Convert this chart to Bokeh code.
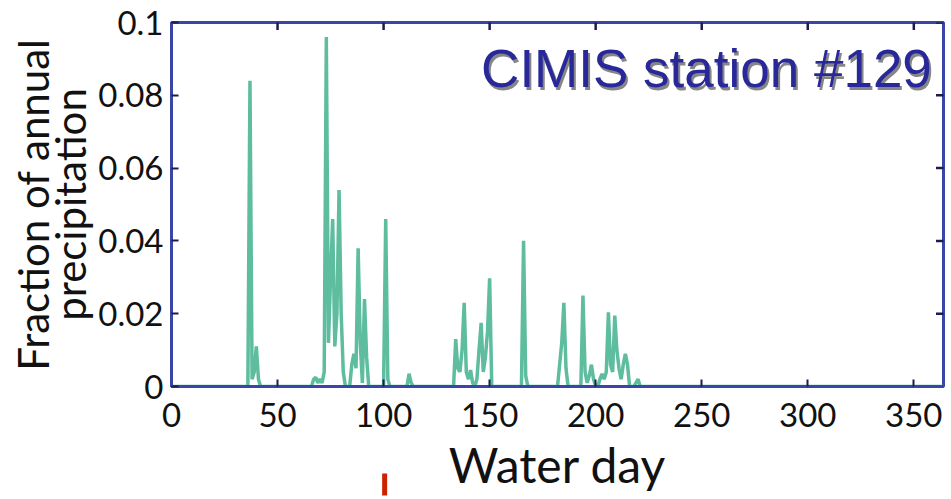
from math import pi

from bokeh.plotting import figure
from bokeh.models import Range1d, FixedTicker, Label, Arrow, NormalHead
from bokeh.embed import file_html
from bokeh.resources import INLINE

# Daily fraction of annual precipitation (water days with rain, zeros on dry days)
days = [0, 35, 36, 37, 38, 39, 40, 41, 42,
        66, 67, 68, 69, 70, 71, 72, 73, 74, 75, 76, 77, 78, 79, 80, 81, 82,
        84, 85, 86, 87, 88, 89, 90, 91, 92, 93,
        100, 101, 102, 103,
        111, 112, 113, 114,
        133, 134, 135, 136, 137, 138, 139, 140, 141, 142, 143, 144, 145, 146, 147, 148, 149, 150, 151,
        165, 166, 167, 168,
        182, 183, 184, 185, 186, 187,
        193, 194, 195, 196, 197, 198, 199, 200,
        201, 202, 203, 204, 205, 206, 207, 208, 209, 210, 211, 212, 213, 214, 215, 216,
        218, 219, 220, 221,
        364]
fraction = [0, 0, 0, 0.084, 0.002, 0.004, 0.011, 0.002, 0,
            0, 0.002, 0.0025, 0.001, 0.002, 0.001, 0.004, 0.096, 0.012, 0.030, 0.046, 0.011, 0.020, 0.054, 0.020, 0.004, 0,
            0, 0.006, 0.009, 0.005, 0.038, 0.012, 0.001, 0.024, 0.008, 0,
            0, 0.046, 0.002, 0,
            0, 0.0035, 0.001, 0,
            0, 0.013, 0.005, 0.004, 0.010, 0.023, 0.004, 0.002, 0.0045, 0.001, 0, 0.002, 0.010, 0.0175, 0.004, 0.008, 0.015, 0.0297, 0,
            0, 0.040, 0.003, 0,
            0, 0.006, 0.012, 0.023, 0.005, 0,
            0, 0.025, 0.004, 0.001, 0.003, 0.006, 0.002, 0,
            0, 0.002, 0.0035, 0.002, 0.004, 0.0204, 0.006, 0.004, 0.0195, 0.010, 0.005, 0.002, 0.006, 0.009, 0.006, 0,
            0, 0.001, 0.002, 0,
            0]

x_ticks = [0, 50, 100, 150, 200, 250, 300, 350]
y_ticks = [0, 0.02, 0.04, 0.06, 0.08, 0.1]
y_tick_labels = ["0", "0.02", "0.04", "0.06", "0.08", "0.1"]

title_text = "CIMIS station #129"
x_title = "Water day"
y_title = "Fraction of annual\nprecipitation"

X_MIN, X_MAX = 0, 364
Y_MIN, Y_MAX = 0, 0.1

BLUE = "#3a45a8"
TEAL = "#5dbd9e"
TICK = "#1c1c50"
INK = "#111111"
RED = "#cc2200"
FONT = "Lato"

p = figure(width=951, height=499,
           x_range=Range1d(X_MIN, X_MAX), y_range=Range1d(Y_MIN, Y_MAX),
           output_backend="svg", toolbar_location=None,
           min_border_left=171, min_border_right=8,
           min_border_top=22, min_border_bottom=113)
p.grid.visible = False
p.background_fill_color = "white"
p.border_fill_color = "white"
p.outline_line_color = BLUE
p.outline_line_width = 3

p.line(days, fraction, line_color=TEAL, line_width=3.5)

# inward tick marks on the top and right frame edges (half of each dash is clipped)
p.scatter(x=x_ticks, y=[Y_MAX] * len(x_ticks), marker="dash", angle=pi / 2,
          size=15, line_color=TICK, line_width=2.5)
p.scatter(x=[X_MAX] * len(y_ticks), y=y_ticks, marker="dash",
          size=15, line_color=TICK, line_width=2.5)

xa = p.xaxis[0]
ya = p.yaxis[0]
xa.ticker = FixedTicker(ticks=x_ticks)
ya.ticker = FixedTicker(ticks=y_ticks)
ya.major_label_overrides = {t: s for t, s in zip(y_ticks, y_tick_labels)}

for ax in (xa, ya):
    ax.axis_line_color = BLUE
    ax.axis_line_width = 3
    ax.major_tick_in = 7
    ax.major_tick_out = 0
    ax.major_tick_line_color = TICK
    ax.major_tick_line_width = 2
    ax.minor_tick_line_color = None
    ax.major_label_text_font = FONT
    ax.major_label_text_font_size = "33px"
    ax.major_label_text_color = INK
    ax.axis_label_text_font = FONT
    ax.axis_label_text_font_style = "normal"
    ax.axis_label_text_color = INK

xa.major_label_standoff = 16
ya.major_label_standoff = 8
xa.axis_label = x_title
xa.axis_label_text_font_size = "48px"
xa.axis_label_standoff = 6
ya.axis_label = y_title
ya.axis_label_text_font_size = "42px"
ya.axis_label_text_line_height = 0.75
ya.axis_label_standoff = 0

# station title with a soft drop shadow
for dx, dy, color, alpha in ((2, -3, "#222222", 0.55), (0, 0, "#28289a", 1.0)):
    p.add_layout(Label(x=358.5, y=0.0873, text=title_text, text_align="right",
                       text_baseline="alphabetic", x_offset=dx, y_offset=dy,
                       text_font="Liberation Sans", text_font_size="53px",
                       text_color=color, text_alpha=alpha))

# red pointer under day 100
p.add_layout(Arrow(x_start=100.5, y_start=-0.034, x_end=100.5, y_end=-0.0239,
                   line_color=RED, line_width=5,
                   end=NormalHead(size=22, line_color=RED, line_width=1,
                                  fill_color=RED)))

open("out.html", "w").write(file_html(p, INLINE))
